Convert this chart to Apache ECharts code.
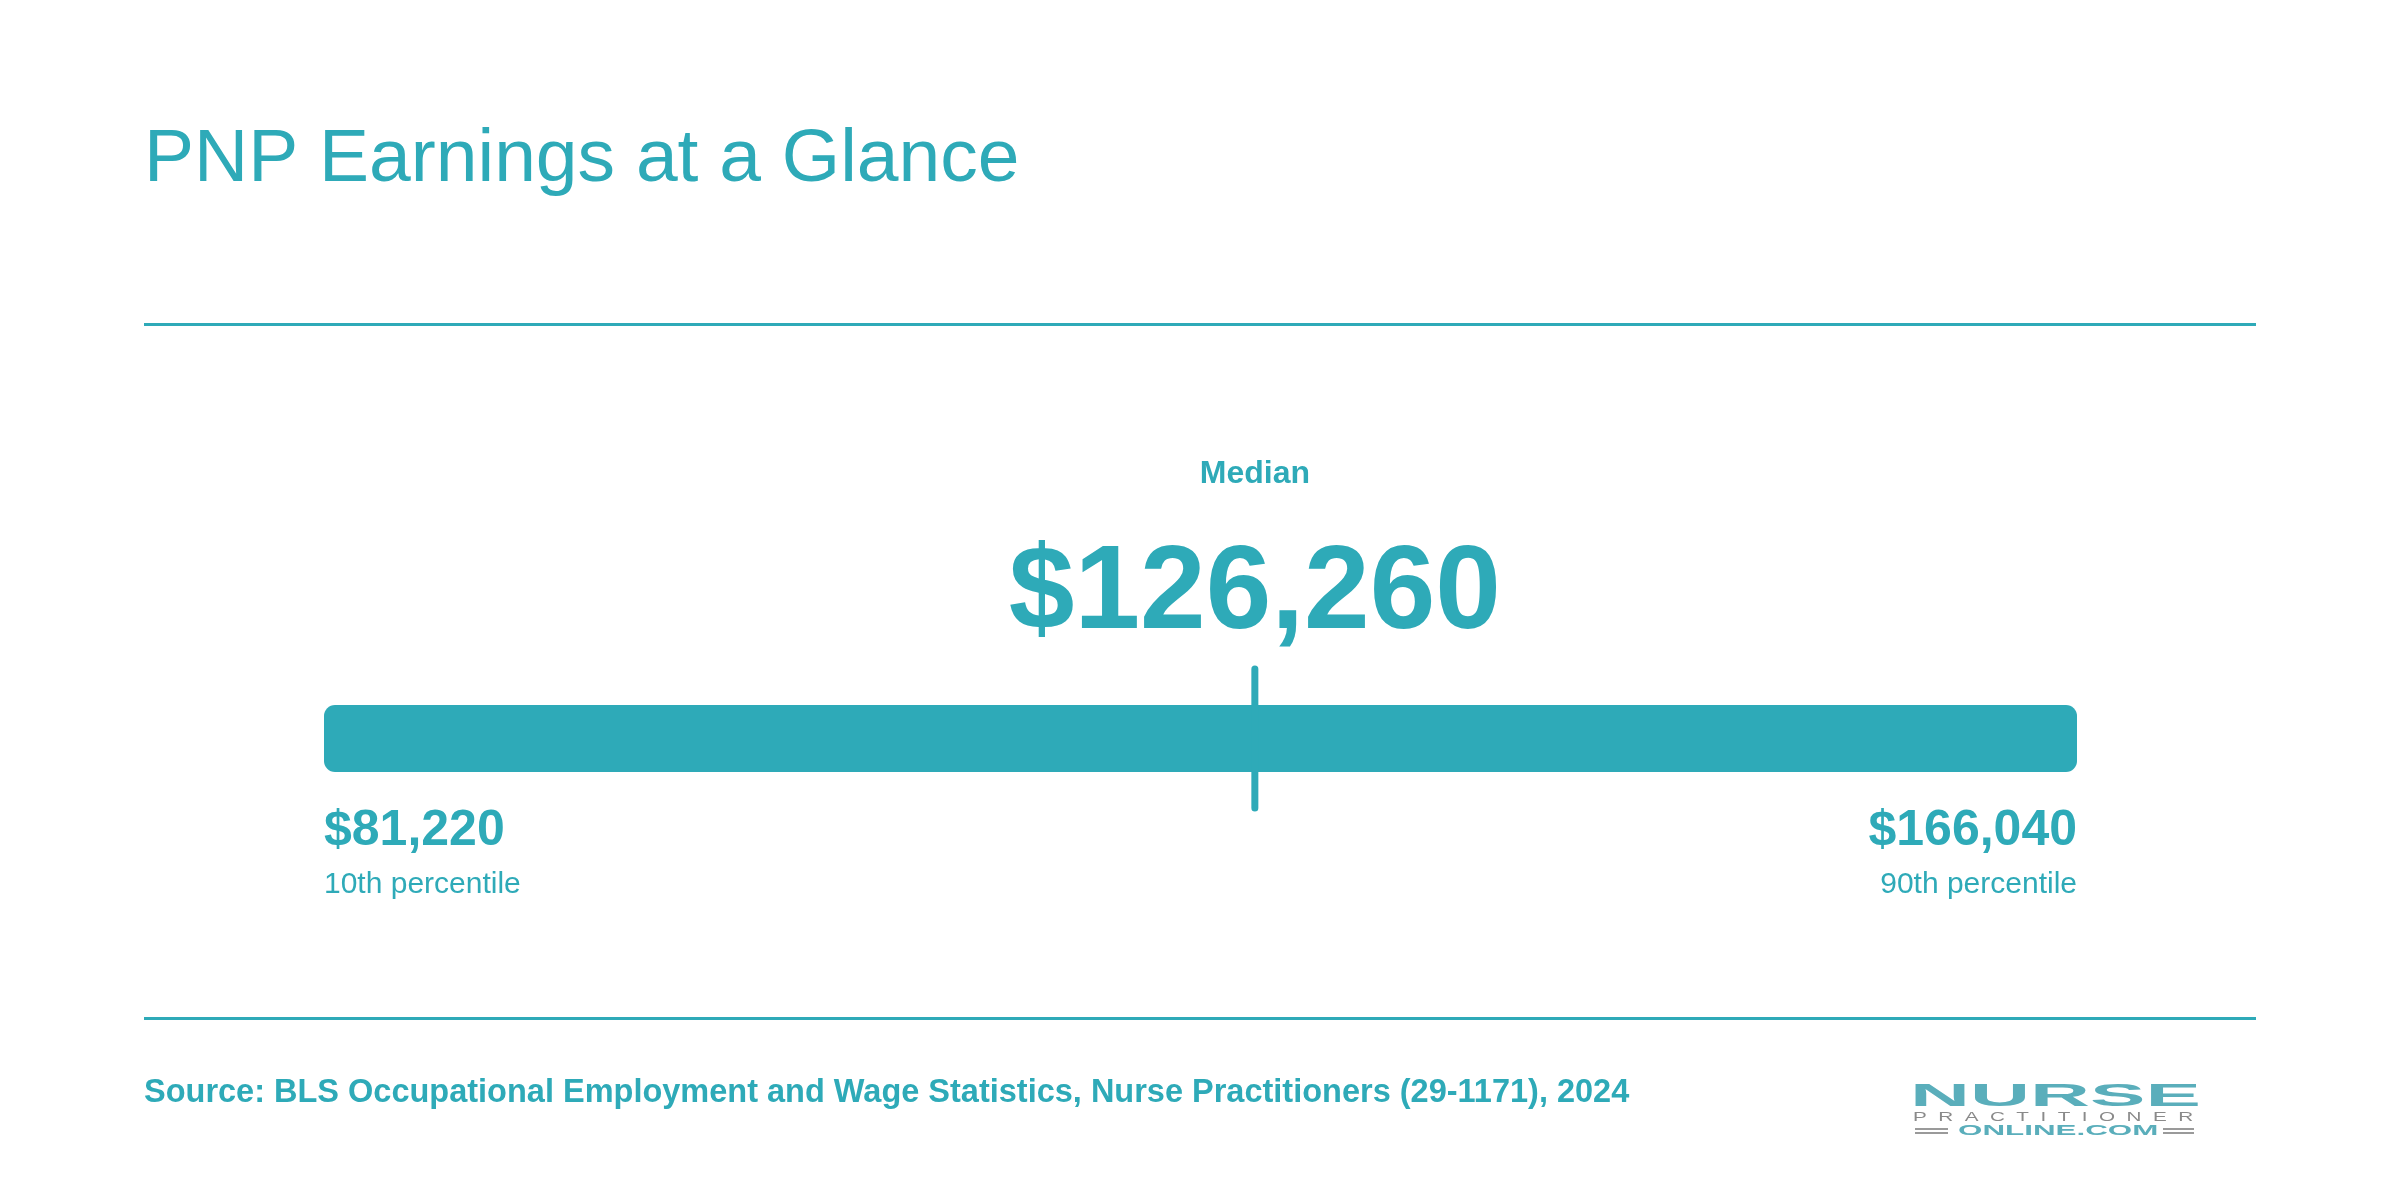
<!DOCTYPE html>
<html>
<head>
<meta charset="utf-8">
<script src="https://cdn.jsdelivr.net/npm/echarts@6/dist/echarts.min.js"></script>
<style>
html,body{margin:0;padding:0;background:#fff;}
#chart{width:2400px;height:1200px;}
</style>
</head>
<body>
<div id="chart"></div>
<script>
// ---- data ----
var titleText = 'PNP Earnings at a Glance';
var sourceText = 'Source: BLS Occupational Employment and Wage Statistics, Nurse Practitioners (29-1171), 2024';
var percentileNames = ['10th percentile', 'Median', '90th percentile'];
var percentileValues = [81220, 126260, 166040];
var valueLabels = ['$81,220', '$126,260', '$166,040'];

var TEAL = '#2eaab8';
var FONT = '"Liberation Sans", Arial, Helvetica, sans-serif';

var chart = echarts.init(document.getElementById('chart'));

chart.setOption({
  backgroundColor: '#ffffff',
  animation: false,
  grid: { left: 324, right: 323, top: 705, height: 67 },
  xAxis: {
    type: 'value',
    min: percentileValues[0],
    max: percentileValues[2],
    show: false
  },
  yAxis: { type: 'value', min: 0, max: 1, show: false },
  series: [{
    type: 'custom',
    data: [percentileValues],
    encode: { x: [0, 1, 2] },
    renderItem: function (params, api) {
      var x10 = api.coord([api.value(0), 0])[0];
      var xm = api.coord([api.value(1), 0])[0];
      var x90 = api.coord([api.value(2), 0])[0];
      var yTop = api.coord([api.value(0), 1])[1];
      var yBot = api.coord([api.value(0), 0])[1];
      return {
        type: 'group',
        children: [
          { type: 'rect', shape: { x: x10, y: yTop, width: x90 - x10, height: yBot - yTop, r: 11 },
            style: { fill: TEAL } },
          { type: 'line', shape: { x1: xm, y1: yTop - 36, x2: xm, y2: yBot + 36 },
            style: { stroke: TEAL, lineWidth: 7, lineCap: 'round' } },
          { type: 'text', style: { x: xm, y: 474, text: percentileNames[1], fill: TEAL,
              font: 'bold 32px ' + FONT, align: 'center', verticalAlign: 'middle' } },
          { type: 'text', style: { x: xm, y: 595, text: valueLabels[1], fill: TEAL,
              font: 'bold 118px ' + FONT, align: 'center', verticalAlign: 'middle' } },
          { type: 'text', style: { x: x10, y: 831, text: valueLabels[0], fill: TEAL,
              font: 'bold 50px ' + FONT, align: 'left', verticalAlign: 'middle' } },
          { type: 'text', style: { x: x10, y: 885, text: percentileNames[0], fill: TEAL,
              font: '30px ' + FONT, align: 'left', verticalAlign: 'middle' } },
          { type: 'text', style: { x: x90, y: 831, text: valueLabels[2], fill: TEAL,
              font: 'bold 50px ' + FONT, align: 'right', verticalAlign: 'middle' } },
          { type: 'text', style: { x: x90, y: 885, text: percentileNames[2], fill: TEAL,
              font: '30px ' + FONT, align: 'right', verticalAlign: 'middle' } }
        ]
      };
    }
  }],
  graphic: [
    { type: 'text', x: 144, y: 160, style: { text: titleText, fill: TEAL, font: '75px ' + FONT, verticalAlign: 'middle' } },
    { type: 'line', shape: { x1: 144, y1: 324.5, x2: 2256, y2: 324.5 }, style: { stroke: TEAL, lineWidth: 3 } },
    { type: 'line', shape: { x1: 144, y1: 1018.5, x2: 2256, y2: 1018.5 }, style: { stroke: TEAL, lineWidth: 3 } },
    { type: 'text', x: 144, y: 1093, style: { text: sourceText, fill: TEAL, font: 'bold 32.5px ' + FONT, verticalAlign: 'middle' } },
    // logo
    { type: 'text', x: 1910, y: 1097, scaleX: 2.68, style: { text: 'NURSE', fill: '#5aaebb', font: '900 31px ' + FONT, verticalAlign: 'middle' } },
    { type: 'text', x: 1913, y: 1117, scaleX: 1.59, style: { text: 'P  R  A  C  T  I  T  I  O  N  E  R', fill: '#8a8a8a', font: '13px ' + FONT, verticalAlign: 'middle' } },
    { type: 'text', x: 1958, y: 1131, scaleX: 2.09, style: { text: 'ONLINE.COM', fill: '#5aaebb', font: 'bold 15px ' + FONT, verticalAlign: 'middle' } },
    { type: 'rect', shape: { x: 1915, y: 1128, width: 33, height: 2 }, style: { fill: '#9a9a9a' } },
    { type: 'rect', shape: { x: 1915, y: 1132, width: 33, height: 2 }, style: { fill: '#9a9a9a' } },
    { type: 'rect', shape: { x: 2163, y: 1128, width: 31, height: 2 }, style: { fill: '#9a9a9a' } },
    { type: 'rect', shape: { x: 2163, y: 1132, width: 31, height: 2 }, style: { fill: '#9a9a9a' } }
  ]
});
</script>
</body>
</html>
